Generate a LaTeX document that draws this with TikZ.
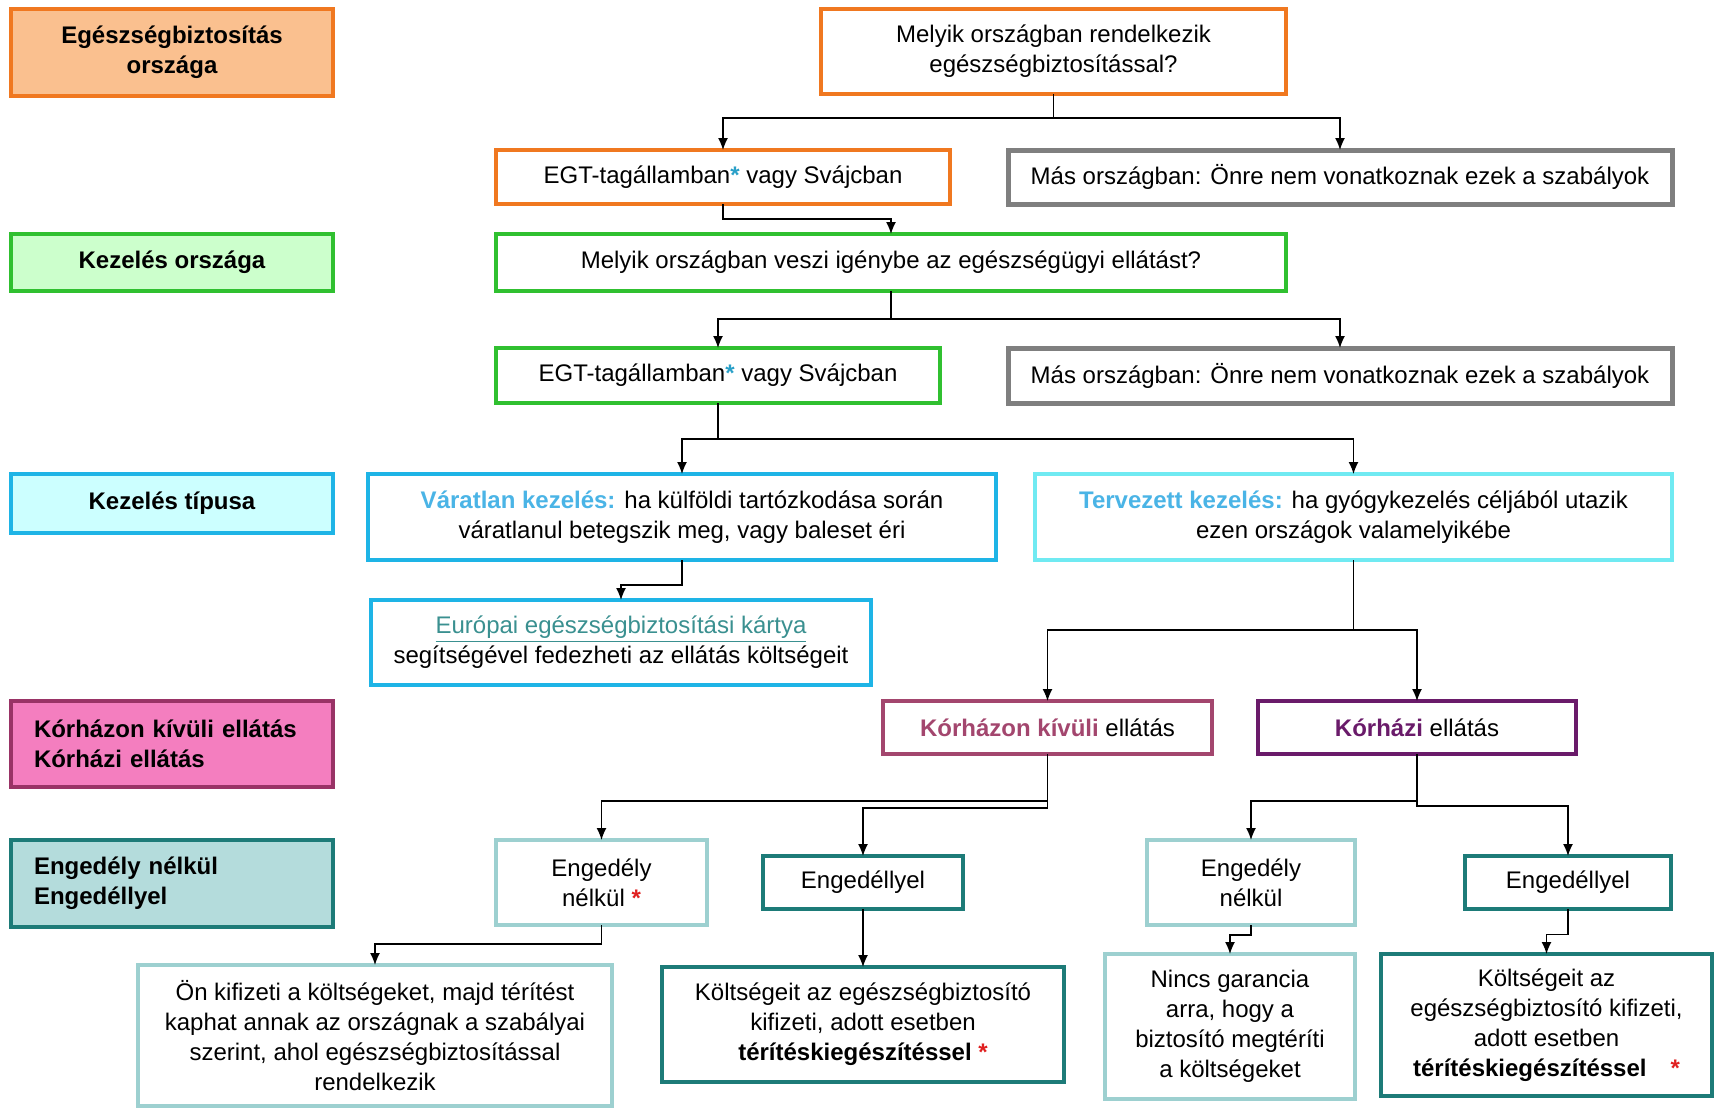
\documentclass[tikz,border=0pt]{standalone}
\usepackage{fontspec}
\setmainfont{Liberation Sans}
\usepackage{tikz}
\usetikzlibrary{arrows.meta, positioning}

\definecolor{narancs}{HTML}{F07820}
\definecolor{narancsf}{HTML}{FAC08F}
\definecolor{zold}{HTML}{30C030}
\definecolor{zoldf}{HTML}{CCFFCC}
\definecolor{cian}{HTML}{1EB4E6}
\definecolor{cianf}{HTML}{CCFFFF}
\definecolor{cianv}{HTML}{70EAF2}
\definecolor{szurke}{HTML}{7F7F7F}
\definecolor{kekszoveg}{HTML}{4AB4E6}
\definecolor{linkszin}{HTML}{3A9090}
\definecolor{malyva}{HTML}{A3466E}
\definecolor{rozsaf}{HTML}{F47EBF}
\definecolor{rozsa}{HTML}{993366}
\definecolor{lila}{HTML}{6A1B6A}
\definecolor{turkiz}{HTML}{1D7B78}
\definecolor{turkizf}{HTML}{B4DCDC}
\definecolor{turkizv}{HTML}{9DD0D0}
\definecolor{piros}{HTML}{E02020}
\definecolor{csillag}{HTML}{2AA0C8}

\tikzstyle{conn} = [line width=0.7pt, -{Latex[length=6pt, width=5pt]}]
\tikzstyle{box} = [draw, rectangle, line width=2pt, outer sep=0pt, inner sep=2pt, align=center, fill=white]
\tikzstyle{legend} = [box, minimum width=161pt, font=\bfseries]

\newcommand{\egtcsillag}{{\color{csillag}\textbf{*}}}
\newcommand{\pcs}{{\color{piros}\textbf{*}}}

\begin{document}
\fontsize{12}{15}\selectfont
\begin{tikzpicture}
  \useasboundingbox (0,0) rectangle (857pt,-554pt);
  % Nodes
  \node (egbiztosit) [legend, draw=narancs, fill=narancsf, minimum height=43.5pt, anchor=north west] at (5.5pt,-4.5pt) {Egészségbiztosítás\\országa};
  \node (kezorszag) [legend, draw=zold, fill=zoldf, minimum height=28.5pt, below=69pt of egbiztosit.south west, anchor=north west] {Kezelés országa};
  \node (keztipus) [legend, draw=cian, fill=cianf, minimum height=29.5pt, below=91.5pt of kezorszag.south west, anchor=north west] {Kezelés típusa};
  \node (ellatas) [legend, draw=rozsa, fill=rozsaf, minimum height=43pt, inner xsep=11.5pt, text width=138pt, align=left, below=84pt of keztipus.south west, anchor=north west] {Kórházon kívüli ellátás\\Kórházi ellátás};
  \node (engedely) [legend, draw=turkiz, fill=turkizf, minimum height=43.5pt, inner xsep=11.5pt, text width=138pt, align=left, below=26.5pt of ellatas.south west, anchor=north west] {Engedély nélkül\\Engedéllyel};

  \node (melyik2) [box, draw=zold, minimum width=395pt, minimum height=28.5pt, right=81.5pt of kezorszag.north east, anchor=north west] {Melyik országban veszi igénybe az egészségügyi ellátást?};
  \node (melyik1) [box, draw=narancs, minimum width=232.5pt, minimum height=42.5pt, above=70pt of melyik2.north east, anchor=south east] {Melyik országban rendelkezik\\egészségbiztosítással?};
  \node (egt1) [box, draw=narancs, minimum width=227pt, minimum height=27pt, above=15pt of melyik2.north west, anchor=south west] {EGT-tagállamban\egtcsillag{} vagy Svájcban};
  \node (mas1) [box, draw=szurke, line width=2.5pt, minimum width=332pt, minimum height=27pt, right=29pt of egt1.north east, anchor=north west] {Más országban: Önre nem vonatkoznak ezek a szabályok};
  \node (egt2) [box, draw=zold, minimum width=222pt, minimum height=27.5pt, below=28.5pt of melyik2.south west, anchor=north west] {EGT-tagállamban\egtcsillag{} vagy Svájcban};
  \node (mas2) [box, draw=szurke, line width=2.5pt, minimum width=332pt, minimum height=27.5pt, right=34pt of egt2.north east, anchor=north west] {Más országban: Önre nem vonatkoznak ezek a szabályok};

  \node (varatlan) [box, draw=cian, minimum width=314pt, minimum height=43pt, right=17.5pt of keztipus.north east, anchor=north west] {{\color{kekszoveg}\textbf{Váratlan kezelés:}} ha külföldi tartózkodása során\\váratlanul betegszik meg, vagy baleset éri};
  \node (tervezett) [box, draw=cianv, minimum width=318.5pt, minimum height=43pt, right=19.5pt of varatlan.north east, anchor=north west] {{\color{kekszoveg}\textbf{Tervezett kezelés:}} ha gyógykezelés céljából utazik\\ezen országok valamelyikébe};
  \node (ekartya) [box, draw=cian, minimum width=250pt, minimum height=42.5pt, below=20pt of varatlan.south west, anchor=north west, xshift=1.5pt] {{\color{linkszin}\underline{Európai egészségbiztosítási kártya}}\\segítségével fedezheti az ellátás költségeit};

  \node (kivuli) [box, draw=malyva, minimum width=164.5pt, minimum height=26.5pt, right=275pt of ellatas.north east, anchor=north west] {{\color{malyva}\textbf{Kórházon kívüli}} ellátás};
  \node (korhazi) [box, draw=lila, minimum width=159pt, minimum height=26.5pt, right=23pt of kivuli.north east, anchor=north west] {{\color{lila}\textbf{Kórházi}} ellátás};

  \node (nelkul1) [box, draw=turkizv, minimum width=105.5pt, minimum height=42.5pt, right=81.5pt of engedely.north east, anchor=north west] {Engedély\\nélkül \pcs};
  \node (vele1) [box, draw=turkiz, minimum width=100pt, minimum height=26.5pt, right=28pt of nelkul1] {Engedéllyel};
  \node (nelkul2) [box, draw=turkizv, minimum width=104pt, minimum height=42.5pt, right=92pt of vele1] {Engedély\\nélkül};
  \node (vele2) [box, draw=turkiz, minimum width=103pt, minimum height=26.5pt, right=55pt of nelkul2] {Engedéllyel};

  \node (onkifizet) [box, draw=turkizv, minimum width=237pt, minimum height=70.5pt, below right=19pt and 63.5pt of engedely.south west, anchor=north west] {Ön kifizeti a költségeket, majd térítést\\kaphat annak az országnak a szabályai\\szerint, ahol egészségbiztosítással\\rendelkezik};
  \node (koltseg1) [box, draw=turkiz, minimum width=201pt, minimum height=57.5pt, below=29pt of vele1] {Költségeit az egészségbiztosító\\kifizeti, adott esetben\\\textbf{térítéskiegészítéssel} \pcs};
  \node (garancia) [box, draw=turkizv, minimum width=125pt, minimum height=72.5pt, below=14.5pt of nelkul2.south east, anchor=north east] {Nincs garancia\\arra, hogy a\\biztosító megtéríti\\a költségeket};
  \node (koltseg2) [box, draw=turkiz, minimum width=165.5pt, minimum height=71pt, below=22.5pt of vele2, xshift=-10.75pt] {Költségeit az\\egészségbiztosító kifizeti,\\adott esetben\\\textbf{térítéskiegészítéssel}\quad\pcs};

  % Arrows
  \draw[conn] (melyik1.south) -- ++(0,-12pt) -| (egt1.north);
  \draw[conn] (melyik1.south) -- ++(0,-12pt) -| (mas1.north);
  \draw[conn] (egt1.south) -- ++(0,-7.5pt) -| (melyik2.north);
  \draw[conn] (melyik2.south) -- ++(0,-14pt) -| (egt2.north);
  \draw[conn] (melyik2.south) -- ++(0,-14pt) -| (mas2.north);
  \draw[conn] (egt2.south) -- ++(0,-18pt) -| (varatlan.north);
  \draw[conn] (egt2.south) -- ++(0,-18pt) -| (tervezett.north);
  \draw[conn] (varatlan.south) -- ++(0,-12.5pt) -| (ekartya.north);
  \draw[conn] (tervezett.south) -- ++(0,-35pt) -| (kivuli.north);
  \draw[conn] (tervezett.south) -- ++(0,-35pt) -| (korhazi.north);
  \draw[conn] (kivuli.south) -- ++(0,-23.5pt) -| (nelkul1.north);
  \draw[conn] (kivuli.south) -- ++(0,-27pt) -| (vele1.north);
  \draw[conn] (korhazi.south) -- ++(0,-23.5pt) -| (nelkul2.north);
  \draw[conn] (korhazi.south) -- ++(0,-26pt) -| (vele2.north);
  \draw[conn] (nelkul1.south) -- ++(0,-9.5pt) -| (onkifizet.north);
  \draw[conn] (vele1) -- (koltseg1);
  \draw[conn] (nelkul2.south) -- ++(0,-5pt) -| (garancia.north);
  \draw[conn] (vele2.south) -- ++(0,-12.8pt) -| (koltseg2.north);
\end{tikzpicture}
\end{document}
